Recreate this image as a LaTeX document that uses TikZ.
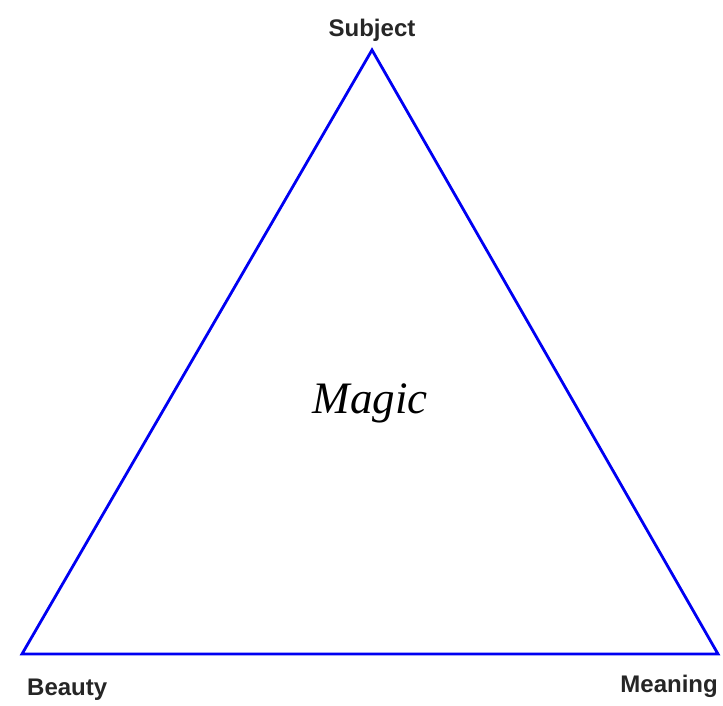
\documentclass[tikz,border=0pt]{standalone}
\usepackage{fontspec}
\setmainfont{Liberation Sans}
\newfontfamily\magicfont{Liberation Serif}
\begin{document}
\begin{tikzpicture}[x=1pt,y=-1pt,
  edge/.style={draw=blue!95!black, line width=2.8pt, line join=miter},
  lbl/.style={font=\fontsize{24}{26}\selectfont\bfseries, inner sep=0pt, text=black!85},
  big/.style={font=\magicfont\itshape\fontsize{45}{48}\selectfont, inner sep=0pt}]
\useasboundingbox[fill=white] (0,0) rectangle (723,706);
\coordinate (top) at (372,50);
\coordinate (bl) at (22,654);
\coordinate (br) at (718,654);
\draw[edge] (top) -- (bl) -- (br) -- cycle;
\node[lbl, anchor=base] (subj) at (372,37) {Subject};
\node[lbl, anchor=base west] (beauty) at (27,695) {Beauty};
\node[lbl, anchor=base east] (meaning) at (718,692) {Meaning};
\node[big, anchor=base] (magic) at (370,413) {Magic};
\end{tikzpicture}
\end{document}
